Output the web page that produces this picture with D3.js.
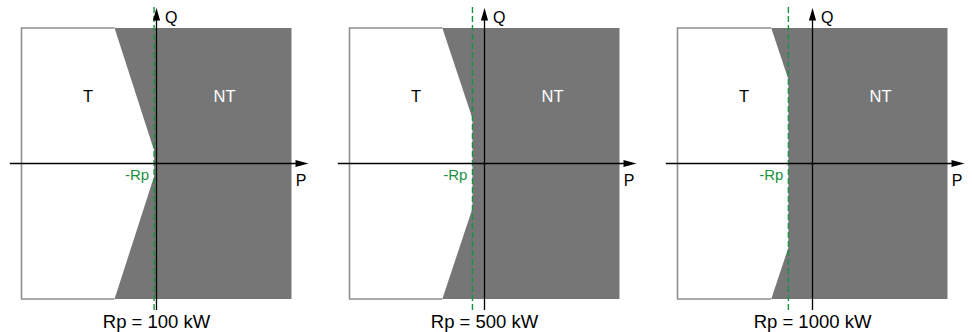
<!DOCTYPE html>
<html>
<head>
<meta charset="utf-8">
<script src="https://cdn.jsdelivr.net/npm/d3@7"></script>
<style>
  body { margin: 0; background: #fff; }
  svg { display: block; font-family: "Liberation Sans", Arial, sans-serif; }
</style>
</head>
<body>
<svg id="chart" width="972" height="332"></svg>
<script>
// Values (P and Q in kW / kvar, box spans +-5600)
var rpValues = [100, 500, 1000];
var panelLabels = ["Rp = 100 kW", "Rp = 500 kW", "Rp = 1000 kW"];
// Q where the T boundary meets the vertical P = -Rp
var vertexQ = [540, 1860, 3470];
// P where the T boundary meets the top/bottom edge of the box
var cornerP = [-1740, -1750, -1710];
var extent = 5600;

var svg = d3.select("#chart");
var boxW = 270, boxH = 271;
var darkFill = "#767676", green = "#1a9140";

var x = d3.scaleLinear().domain([-extent, extent]).range([0, boxW]);
var y = d3.scaleLinear().domain([-extent, extent]).range([boxH, 0]);
var line = d3.line().x(function (d) { return x(d[0]); }).y(function (d) { return y(d[1]); });

rpValues.forEach(function (rp, i) {
    var g = svg.append("g")
        .attr("transform", "translate(" + (21.5 + i * 328) + ",28)");

    // Non tripping zone (whole box)
    g.append("rect")
        .attr("x", x(-extent))
        .attr("y", y(extent))
        .attr("width", x(extent) - x(-extent))
        .attr("height", y(-extent) - y(extent))
        .attr("fill", darkFill);

    // Tripping zone
    var white = [
        [-extent, extent], [cornerP[i], extent], [-rp, vertexQ[i]],
        [-rp, -vertexQ[i]], [cornerP[i], -extent], [-extent, -extent]
    ];
    g.append("path")
        .attr("d", line(white) + "Z")
        .attr("fill", "#fff");

    // outer border of the white part only
    g.append("path")
        .attr("d", line([[cornerP[i], extent], [-extent, extent], [-extent, -extent], [cornerP[i], -extent]]))
        .attr("fill", "none")
        .attr("stroke", "#8f8f8f")
        .attr("stroke-width", 1.6);

    // -Rp dashed line
    var gx = x(-rp);
    g.append("line")
        .attr("x1", gx).attr("x2", gx)
        .attr("y1", y(extent) - 21).attr("y2", y(-extent) + 11)
        .attr("stroke", green)
        .attr("stroke-width", 1.4)
        .attr("stroke-dasharray", "6,3");

    // Axes
    var ox = x(0), oy = y(0);
    var pLeft = x(-extent) - 11.7, pRight = x(extent) + 17;
    var qTop = y(extent) - 20, qBottom = y(-extent) + 11;
    g.append("line")
        .attr("x1", pLeft).attr("x2", pRight - 10)
        .attr("y1", oy).attr("y2", oy)
        .attr("stroke", "#000").attr("stroke-width", 1.3);
    g.append("path")
        .attr("d", "M" + pRight + "," + oy + "L" + (pRight - 13) + "," + (oy - 3.6) + "L" + (pRight - 13) + "," + (oy + 3.6) + "Z")
        .attr("fill", "#000");
    g.append("line")
        .attr("x1", ox).attr("x2", ox)
        .attr("y1", qTop + 10).attr("y2", qBottom)
        .attr("stroke", "#000").attr("stroke-width", 1.3);
    g.append("path")
        .attr("d", "M" + ox + "," + qTop + "L" + (ox - 3.6) + "," + (qTop + 12.5) + "L" + (ox + 3.6) + "," + (qTop + 12.5) + "Z")
        .attr("fill", "#000");

    // Texts
    g.append("text")
        .attr("x", 66.5).attr("y", 74)
        .attr("text-anchor", "middle")
        .attr("font-size", "16.5px")
        .attr("fill", "#000")
        .text("T");
    g.append("text")
        .attr("x", 203).attr("y", 74)
        .attr("text-anchor", "middle")
        .attr("font-size", "16.5px")
        .attr("fill", "#fff")
        .text("NT");
    g.append("text")
        .attr("x", pRight - 7.5).attr("y", oy + 22.5)
        .attr("text-anchor", "middle")
        .attr("font-size", "16px")
        .attr("fill", "#000")
        .text("P");
    g.append("text")
        .attr("x", ox + 8.5).attr("y", -5.3)
        .attr("font-size", "16px")
        .attr("fill", "#000")
        .text("Q");
    g.append("text")
        .attr("x", gx - 5).attr("y", oy + 16)
        .attr("text-anchor", "end")
        .attr("font-size", "15px")
        .attr("fill", green)
        .text("-Rp");
    g.append("text")
        .attr("x", ox).attr("y", 300)
        .attr("text-anchor", "middle")
        .attr("font-size", "18.5px")
        .attr("fill", "#000")
        .text(panelLabels[i]);
});
</script>
</body>
</html>
